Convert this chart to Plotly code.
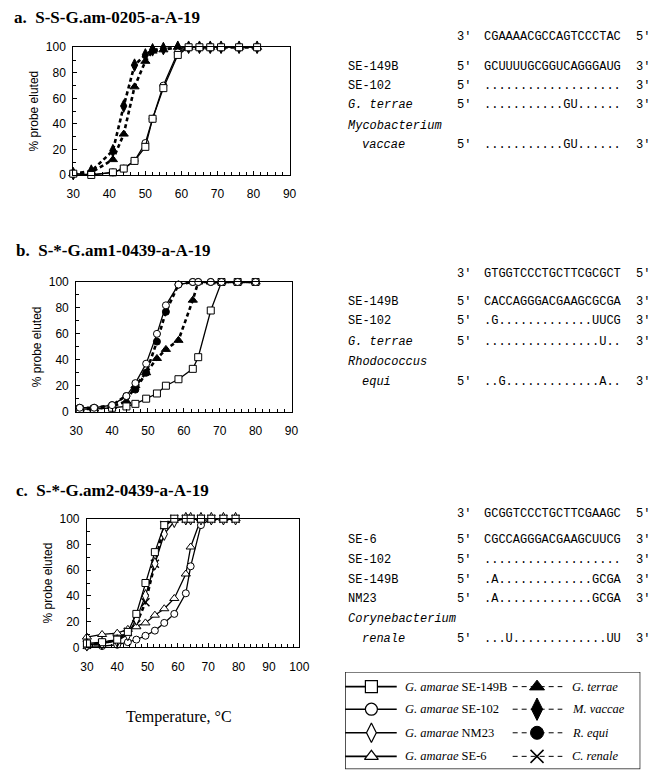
import plotly.graph_objects as go

W, H = 662, 783

# ---------------- data ----------------
# Panel a: S-S-G.am-0205-a-A-19
a_temp = [30, 35, 41, 44, 47, 50, 52, 55, 59, 62, 65, 68, 71, 76, 81]
a_se149b = [1, 0, 2, 5, 11, 22, 44, 68, 94, 100, 100, 100, 100, 100, 100]
a_se102 = [1, 0, 2, 5, 11, 25, 44, 70, 96, 100, 100, 100, 100, 100, 100]
a_terrae = [1, 2, 12, 32, 69, 89, 97, 98, 100, 100, 100, 100, 100, 100, 100]
a_vaccae = [1, 3, 19, 54, 86, 94, 98, 99, 100, 100, 100, 100, 100, 100, 100]

# Panel b: S-*-G.am1-0439-a-A-19
b_temp = [31, 35, 40, 44, 46.5, 49.5, 52.5, 55, 58.5, 62.5, 64, 67.5, 70.5, 75, 80]
b_se149b = [2, 2, 3, 4, 6, 10, 14, 20, 25, 33, 42, 78, 100, 100, 100]
b_se102 = [3, 3, 5, 12, 22, 37, 60, 82, 98, 100, 100, 100, 100, 100, 100]
b_terrae = [2, 2, 4, 8, 20, 30, 41, 48, 55, 86, 100, 100, 100, 100, 100]
b_equi = [3, 3, 5, 12, 17, 30, 54, 77, 98, 100, 100, 100, 100, 100, 100]

# Panel c: S-*-G.am2-0439-a-A-19
c_temp = [30, 35, 40, 43.5, 46.3, 49.3, 52.4, 55.5, 58.8, 62.6, 64.2, 67.6, 71, 75, 79]
c_se149b = [3, 4, 6, 12, 26, 50, 74, 95, 100, 100, 100, 100, 100, 100, 100]
c_se102 = [1, 1, 2, 4, 6, 9, 13, 19, 26, 42, 63, 95, 100, 100, 100]
c_nm23 = [2, 3, 5, 10, 22, 40, 65, 88, 98, 100, 100, 100, 100, 100, 100]
c_se6 = [8, 10, 11, 14, 16, 19, 25, 30, 38, 57, 78, 100, 100, 100, 100]
c_renale = [2, 3, 6, 12, 18, 35, 65, 95, 100, 100, 100, 100, 100, 100, 100]

titles = ["a.\u00a0\u00a0S-S-G.am-0205-a-A-19",
          "b.\u00a0\u00a0S-*-G.am1-0439-a-A-19",
          "c.\u00a0\u00a0S-*-G.am2-0439-a-A-19"]

# sequence tables: (label, italic, 5'/3' left, sequence, right end)
seq_a = [("", False, "3'", "CGAAAACGCCAGTCCCTAC", "5'"),
         ("SE-149B", False, "5'", "GCUUUUGCGGUCAGGGAUG", "3'"),
         ("SE-102", False, "5'", "...................", "3'"),
         ("G. terrae", True, "5'", "...........GU......", "3'"),
         ("Mycobacterium", True, "", "", ""),
         ("  vaccae", True, "5'", "...........GU......", "3'")]
seq_b = [("", False, "3'", "GTGGTCCCTGCTTCGCGCT", "5'"),
         ("SE-149B", False, "5'", "CACCAGGGACGAAGCGCGA", "3'"),
         ("SE-102", False, "5'", ".G.............UUCG", "3'"),
         ("G. terrae", True, "5'", "................U..", "3'"),
         ("Rhodococcus", True, "", "", ""),
         ("  equi", True, "5'", "..G.............A..", "3'")]
seq_c = [("", False, "3'", "GCGGTCCCTGCTTCGAAGC", "5'"),
         ("SE-6", False, "5'", "CGCCAGGGACGAAGCUUCG", "3'"),
         ("SE-102", False, "5'", "...................", "3'"),
         ("SE-149B", False, "5'", ".A.............GCGA", "3'"),
         ("NM23", False, "5'", ".A.............GCGA", "3'"),
         ("Corynebacterium", True, "", "", ""),
         ("  renale", True, "5'", "...U.............UU", "3'")]

legend_left = [("G. amarae", " SE-149B", "square"), ("G. amarae", " SE-102", "circle"),
               ("G. amarae", " NM23", "diamond-tall"), ("G. amarae", " SE-6", "triangle-up")]
legend_right = [("G. terrae", "triangle-up"), ("M. vaccae", "diamond-tall"),
                ("R. equi", "circle"), ("C. renale", "x-thin")]

# ---------------- layout geometry (pixels) ----------------
panels = [  # x0, x1, ytop, ybottom, xrange
    (68, 290, 41, 171, [30, 90]),
    (71, 292, 280, 412, [30, 90]),
    (82, 300, 521, 652, [30, 100]),
]
title_pos = [(5, 11), (7, 248), (7, 492)]
seq_rows_y = [[31, 61, 80, 100, 121, 141],
              [272, 300, 320, 341, 361, 382],
              [516, 543, 563, 583, 603, 623, 643]]


def px(x):
    return x / W


def py(y):
    return 1 - y / H


fig = go.Figure()

OPEN = dict(color="white", line=dict(color="black", width=1))
FILLED = dict(color="black", line=dict(color="black", width=1))
SOLID = dict(color="black", width=1.3)
DASH = dict(color="black", width=2.6, dash="4px,3px")

sizes = {"square": 7, "circle": 7, "diamond-tall": 9, "triangle-up": 8, "x-thin": 8}


def add_series(ax, x, y, symbol, filled, dashed):
    m = dict(symbol=symbol, size=sizes[symbol])
    if symbol == "x-thin":
        m.update(color="black", line=dict(color="black", width=1.5))
    else:
        m.update(FILLED if filled else OPEN)
    fig.add_trace(go.Scatter(
        x=x, y=y, mode="lines+markers", xaxis="x" + ax, yaxis="y" + ax,
        line=DASH if dashed else SOLID, marker=m, cliponaxis=False, showlegend=False,
        hoverinfo="skip"))


# panel a
add_series("", a_temp, a_terrae, "triangle-up", True, True)
add_series("", a_temp, a_vaccae, "diamond-tall", True, True)
add_series("", a_temp, a_se102, "circle", False, False)
add_series("", a_temp, a_se149b, "square", False, False)
# panel b
add_series("2", b_temp, b_terrae, "triangle-up", True, True)
add_series("2", b_temp, b_equi, "circle", True, True)
add_series("2", b_temp, b_se149b, "square", False, False)
add_series("2", b_temp, b_se102, "circle", False, False)
# panel c
add_series("3", c_temp, c_renale, "x-thin", True, True)
add_series("3", c_temp, c_se6, "triangle-up", False, False)
add_series("3", c_temp, c_se102, "circle", False, False)
add_series("3", c_temp, c_nm23, "diamond-tall", False, False)
add_series("3", c_temp, c_se149b, "square", False, False)

TICKFONT = dict(family="Liberation Sans, Arial, sans-serif", size=12, color="black")
layout = dict(width=W, height=H, margin=dict(l=0, r=0, t=0, b=0),
              paper_bgcolor="white", plot_bgcolor="white", showlegend=False)

for i, (x0, x1, yt, yb, xr) in enumerate(panels):
    sfx = "" if i == 0 else str(i + 1)
    layout["xaxis" + sfx] = dict(
        domain=[px(x0), px(x1)], range=xr, dtick=10, anchor="y" + sfx,
        showline=True, mirror=True, linecolor="black", linewidth=1,
        ticks="inside", ticklen=4, tickcolor="black",
        minor=dict(dtick=2, ticks="inside", ticklen=3, tickcolor="black"),
        showgrid=False, zeroline=False, tickfont=TICKFONT, ticklabelstandoff=8,
        fixedrange=True)
    layout["yaxis" + sfx] = dict(
        domain=[py(yb), py(yt)], range=[0, 100], dtick=20, anchor="x" + sfx,
        showline=True, mirror=True, linecolor="black", linewidth=1,
        ticks="inside", ticklen=4, tickcolor="black",
        minor=dict(dtick=10, ticks="inside", ticklen=3, tickcolor="black"),
        showgrid=False, zeroline=False, tickfont=TICKFONT, ticklabelstandoff=4,
        title=dict(text="% probe eluted", font=dict(family="Liberation Sans, Arial, sans-serif",
                                                      size=12, color="black"), standoff=4),
        fixedrange=True)

# legend axis (pixel coordinates)
LX0, LX1, LY0, LY1 = 347, 650, 677, 776
layout["xaxis4"] = dict(domain=[px(LX0), px(LX1)], range=[LX0, LX1], visible=False,
                        anchor="y4", fixedrange=True)
layout["yaxis4"] = dict(domain=[py(LY1), py(LY0)], range=[LY1, LY0], visible=False,
                        anchor="x4", fixedrange=True)

fig.update_layout(**layout)

annotations = []
SERIF = "Liberation Serif, Times New Roman, serif"
MONO = "Liberation Mono, Courier New, monospace"

for (tx, ty), t in zip(title_pos, titles):
    annotations.append(dict(x=px(tx), y=py(ty), xref="paper", yref="paper", text="<b>" + t + "</b>",
                            showarrow=False, xanchor="left", yanchor="middle",
                            font=dict(family=SERIF, size=17, color="black")))

for rows, ys in zip([seq_a, seq_b, seq_c], seq_rows_y):
    for (lab, ital, e1, seq, e2), y in zip(rows, ys):
        items = []
        if lab:
            lx = 348
            txt = lab
            if lab.startswith("  "):
                lx = 362
                txt = lab.strip()
            if ital:
                txt = "<i>" + txt + "</i>"
            items.append((lx, txt))
        if e1:
            items.append((460, e1))
        if seq:
            items.append((488, seq))
        if e2:
            items.append((644, e2))
        for x, txt in items:
            annotations.append(dict(x=px(x), y=py(y), xref="paper", yref="paper", text=txt,
                                    showarrow=False, xanchor="left", yanchor="middle",
                                    font=dict(family=MONO, size=12, color="black")))

annotations.append(dict(x=px(177), y=py(723), xref="paper", yref="paper",
                        text="Temperature, \u00b0C", showarrow=False, xanchor="center",
                        yanchor="middle", font=dict(family=SERIF, size=16, color="black")))

# legend box
fig.add_shape(type="rect", xref="x4", yref="y4", x0=LX0, x1=LX1, y0=LY0, y1=LY1,
              line=dict(color="black", width=1.3), fillcolor="rgba(0,0,0,0)")
legend_rows = [692, 715, 739, 763]
for (g, s, sym), y in zip(legend_left, legend_rows):
    fig.add_trace(go.Scatter(x=[LX0, 400], y=[y, y], mode="lines", xaxis="x4", yaxis="y4",
                             line=dict(color="black", width=1.6), showlegend=False,
                             hoverinfo="skip", cliponaxis=False))
    fig.add_trace(go.Scatter(x=[374], y=[y], mode="markers", xaxis="x4", yaxis="y4",
                             marker=dict(symbol=sym, size=12 if sym != "diamond-tall" else 14,
                                         color="white", line=dict(color="black", width=1.2)),
                             showlegend=False, hoverinfo="skip", cliponaxis=False))
    annotations.append(dict(x=406, y=y, xref="x4", yref="y4", text="<i>" + g + "</i>" + s,
                            showarrow=False, xanchor="left", yanchor="middle",
                            font=dict(family=SERIF, size=12.5, color="black")))
for (name, sym), y in zip(legend_right, legend_rows):
    fig.add_trace(go.Scatter(x=[519, 570], y=[y, y], mode="lines", xaxis="x4", yaxis="y4",
                             line=dict(color="black", width=1, dash="5px,4px"), showlegend=False,
                             hoverinfo="skip", cliponaxis=False))
    mk = dict(symbol=sym, size=13 if sym != "diamond-tall" else 16, color="black",
              line=dict(color="black", width=1.5 if sym == "x-thin" else 1))
    fig.add_trace(go.Scatter(x=[544], y=[y], mode="markers", xaxis="x4", yaxis="y4",
                             marker=mk, showlegend=False, hoverinfo="skip", cliponaxis=False))
    annotations.append(dict(x=578, y=y, xref="x4", yref="y4", text="<i>" + name + "</i>",
                            showarrow=False, xanchor="left", yanchor="middle",
                            font=dict(family=SERIF, size=12.5, color="black")))

fig.update_layout(annotations=annotations)
fig.write_html("out.html", config={"displayModeBar": False, "staticPlot": True},
               post_script="document.body.style.margin='0px';")
